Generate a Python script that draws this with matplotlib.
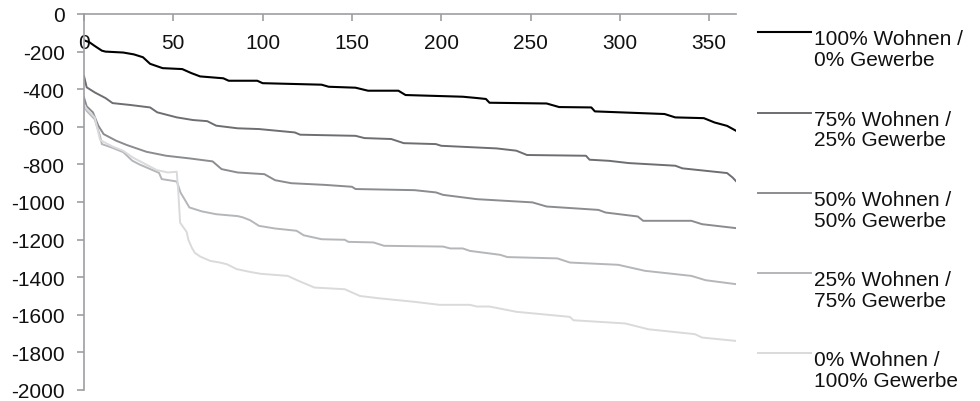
import matplotlib
matplotlib.use("Agg")
import matplotlib.pyplot as plt
from matplotlib.lines import Line2D

plt.rcParams['font.family'] = ['Liberation Sans', 'DejaVu Sans']

# ---- data ----
labels = ["100% Wohnen /\n0% Gewerbe",
          "75% Wohnen /\n25% Gewerbe",
          "50% Wohnen /\n50% Gewerbe",
          "25% Wohnen /\n75% Gewerbe",
          "0% Wohnen /\n100% Gewerbe"]

x_w100 = [0, 3, 6, 10, 12, 22, 28, 33, 37, 44, 55, 60, 65, 78, 81, 97, 100, 133, 137, 152,
          159, 176, 180, 212, 220, 225, 227, 259, 266, 284, 286, 325, 331, 347, 353, 360, 365]
y_w100 = [-140, -150, -170, -195, -200, -205, -215, -230, -265, -288, -293, -314, -332, -342,
          -355, -355, -368, -376, -387, -392, -408, -408, -431, -440, -447, -452, -472, -476,
          -495, -497, -518, -532, -550, -554, -577, -595, -621]

x_w75 = [0, 1.5, 6, 12, 16, 26, 37, 41, 52, 61, 69, 74, 86, 98, 118, 121, 152, 157, 172, 179,
         197, 200, 231, 242, 248, 281, 283, 294, 305, 331, 335, 360, 363, 365]
y_w75 = [-330, -390, -417, -447, -474, -484, -497, -523, -550, -564, -570, -594, -608, -612,
         -630, -642, -648, -660, -665, -687, -692, -701, -715, -727, -750, -754, -775, -781,
         -793, -807, -821, -846, -869, -889]

x_w50 = [0, 1.5, 5, 8, 11, 18, 24, 35, 46, 59, 72, 77, 86, 101, 107, 116, 135, 150, 152, 185,
         197, 201, 220, 251, 259, 288, 292, 310, 313, 340, 346, 365]
y_w50 = [-444, -491, -523, -594, -639, -674, -697, -733, -754, -768, -784, -825, -843, -852,
         -884, -900, -909, -919, -931, -937, -949, -962, -985, -1002, -1024, -1042, -1056,
         -1077, -1100, -1100, -1118, -1139]

x_w25 = [0, 1.5, 6, 9, 10, 16, 22, 27, 31, 42, 43.5, 52, 54, 59, 66, 74, 86, 89, 93, 98, 107,
         119, 123, 133, 146, 148, 162, 168, 201, 205, 212, 216, 233, 237, 265, 272, 299, 314,
         340, 348, 365]
y_w25 = [-490, -515, -560, -650, -692, -712, -735, -780, -800, -845, -878, -891, -949, -1029,
         -1050, -1065, -1075, -1082, -1097, -1127, -1141, -1153, -1177, -1198, -1201, -1212,
         -1215, -1233, -1237, -1247, -1247, -1260, -1281, -1293, -1300, -1322, -1334, -1366,
         -1393, -1416, -1437]

x_w0 = [0, 1.5, 6, 9, 16, 22, 27.6, 40.7, 47, 51.9, 52.8, 53.8, 57.5, 58.4, 60.3, 62, 65,
        70.6, 76, 80, 85.5, 93, 99, 114, 120, 129, 146, 154.5, 165, 185, 199, 216, 220, 227,
        242, 272, 274, 303, 316, 342, 346, 365]
y_w0 = [-480, -505, -550, -670, -705, -728, -765, -830, -843, -839, -949, -1110, -1160, -1200,
        -1242, -1270, -1290, -1313, -1322, -1331, -1357, -1372, -1382, -1393, -1419, -1455,
        -1464, -1500, -1512, -1531, -1547, -1547, -1556, -1556, -1584, -1611, -1629, -1646,
        -1677, -1703, -1721, -1739]

x_ticks = [0, 50, 100, 150, 200, 250, 300, 350]
y_ticks = [0, -200, -400, -600, -800, -1000, -1200, -1400, -1600, -1800, -2000]

series_x = [x_w100, x_w75, x_w50, x_w25, x_w0]
series_y = [y_w100, y_w75, y_w50, y_w25, y_w0]
colors = ["#000000", "#6d6e72", "#8b8c90", "#b4b6b9", "#d9dadc"]
widths = [1.5, 1.4, 1.4, 1.4, 1.4]

# ---- figure ----
W, H = 980, 402
fig = plt.figure(figsize=(W / 100, H / 100), dpi=100)
left_px, right_px, top_px, bot_px = 84, 736, 15, 391
ax = fig.add_axes([left_px / W, 1 - bot_px / H, (right_px - left_px) / W, (bot_px - top_px) / H])

for xs, ys, c, lw in zip(series_x, series_y, colors, widths):
    ax.plot(xs, ys, color=c, lw=lw, solid_joinstyle='round')

ax.set_xlim(0, 365)
ax.set_ylim(-2000, 0)
ax.set_xticks(x_ticks)
ax.set_yticks(y_ticks)
ax.set_yticklabels([str(v) for v in y_ticks])

axis_col = "#9d9ea3"
ax.spines['top'].set_visible(False)
ax.spines['right'].set_visible(False)
ax.spines['bottom'].set_position(('data', 0))
for s in ('bottom', 'left'):
    ax.spines[s].set_color(axis_col)
    ax.spines[s].set_linewidth(1.2)
ax.tick_params(axis='x', direction='out', length=5, width=1.2, color=axis_col,
               labelsize=15, pad=9, labelcolor='#111111')
ax.tick_params(axis='y', direction='out', length=5, width=1.2, color=axis_col,
               labelsize=15, pad=9, labelcolor='#111111')
ax.patch.set_visible(False)

# ---- legend (right side) ----
leg_y0, leg_step = 33.3, 80.25
for i, (lab, c, lw) in enumerate(zip(labels, colors, widths)):
    yp = leg_y0 + i * leg_step
    yf = 1 - yp / H
    fig.add_artist(Line2D([758 / W, 811 / W], [yf, yf], color=c, lw=lw,
                          transform=fig.transFigure))
    fig.text(814 / W, 1 - (yp - 3) / H, lab, fontsize=15, va='top', ha='left',
             linespacing=1.12, color='#111111')

fig.savefig("out.png", dpi=100)
